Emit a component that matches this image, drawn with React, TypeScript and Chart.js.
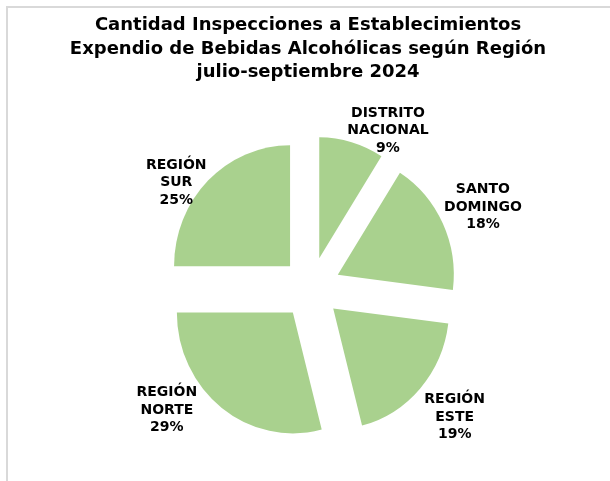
import React, { useEffect, useRef } from "react";
import { Chart, registerables } from "chart.js";

Chart.register(...registerables);

const titleLines = [
  "Cantidad Inspecciones a Establecimientos",
  "Expendio de Bebidas Alcohólicas según Región",
  "julio-septiembre 2024",
];
const categories = [
  ["DISTRITO", "NACIONAL"],
  ["SANTO", "DOMINGO"],
  ["REGIÓN", "ESTE"],
  ["REGIÓN", "NORTE"],
  ["REGIÓN", "SUR"],
];
const values = [9, 18, 19, 29, 25];

// label placement relative to each slice (angle shift in degrees, distance from pie centre in px)
const labelAngleShift = [9.9, 0, 0.5, 11.9, -7];
const labelDistance = [175, 190, 193, 189, 171];

const GREEN = "#a9d18e";
const FONT = "'DejaVu Sans', Verdana, sans-serif";
const EXPLODE = 29.6; // px each slice is pulled out along its bisector
const STRETCH_Y = 1.043; // reference pie is slightly taller than wide

const framePlugin = {
  id: "frame",
  beforeDraw(chart: any) {
    const ctx = chart.ctx;
    ctx.save();
    ctx.fillStyle = "#ffffff";
    ctx.fillRect(0, 0, chart.width, chart.height);
    ctx.fillStyle = "#d9d9d9";
    ctx.fillRect(6, 6, chart.width - 6, 2);
    ctx.fillRect(6, 6, 2, chart.height - 6);
    ctx.restore();
  },
};

// draws the library's own arc elements, each translated outward (exploded pie)
const explodePlugin = {
  id: "explode",
  beforeDatasetDraw(chart: any, args: any) {
    const ctx = chart.ctx;
    const meta = args.meta;
    meta.data.forEach((arc: any) => {
      const p = arc.getProps(["x", "y", "startAngle", "endAngle"], true);
      const half = (p.startAngle + p.endAngle) / 2;
      ctx.save();
      ctx.translate(p.x, p.y);
      ctx.scale(1, STRETCH_Y);
      ctx.translate(-p.x, -p.y);
      ctx.translate(Math.cos(half) * EXPLODE, Math.sin(half) * EXPLODE);
      arc.draw(ctx);
      ctx.restore();
    });
    return false;
  },
};

const titlePlugin = {
  id: "customTitle",
  afterDraw(chart: any) {
    const ctx = chart.ctx;
    ctx.save();
    ctx.fillStyle = "#000000";
    ctx.font = `bold 18px ${FONT}`;
    ctx.textAlign = "center";
    ctx.textBaseline = "alphabetic";
    titleLines.forEach((t, i) => {
      ctx.fillText(t, 308, 30 + i * 23.5);
    });
    ctx.restore();
  },
};

const labelPlugin = {
  id: "sliceLabels",
  afterDatasetsDraw(chart: any) {
    const ctx = chart.ctx;
    const meta = chart.getDatasetMeta(0);
    const total = values.reduce((a, b) => a + b, 0);
    ctx.save();
    ctx.fillStyle = "#000000";
    ctx.font = `bold 14px ${FONT}`;
    ctx.textAlign = "center";
    ctx.textBaseline = "middle";
    meta.data.forEach((arc: any, i: number) => {
      const p = arc.getProps(["x", "y", "startAngle", "endAngle"], true);
      const mid = (p.startAngle + p.endAngle) / 2 + (labelAngleShift[i] * Math.PI) / 180;
      const cx = p.x + Math.cos(mid) * labelDistance[i];
      const cy = p.y + Math.sin(mid) * labelDistance[i];
      const lines = [...categories[i], `${Math.round((values[i] / total) * 100)}%`];
      const lh = 17.5;
      lines.forEach((l, k) => {
        ctx.fillText(l, cx, cy + (k - (lines.length - 1) / 2) * lh);
      });
    });
    ctx.restore();
  },
};

export default function App() {
  const ref = useRef<HTMLCanvasElement | null>(null);
  useEffect(() => {
    if (!ref.current) return;
    const chart = new Chart(ref.current, {
      type: "pie",
      data: {
        labels: categories.map((c) => c.join(" ")),
        datasets: [
          {
            data: values,
            backgroundColor: GREEN,
            borderWidth: 0,
            offset: 0,
            hoverOffset: 0,
          },
        ],
      },
      options: {
        responsive: false,
        animation: false,
        radius: 116,
        layout: { padding: { left: 178, top: 155, right: 166, bottom: 60 } },
        plugins: {
          legend: { display: false },
          title: { display: false },
          tooltip: { enabled: false },
        },
        events: [],
      },
      plugins: [framePlugin, explodePlugin, titlePlugin, labelPlugin],
    });
    return () => chart.destroy();
  }, []);
  return (
    <div style={{ position: "absolute", left: 0, top: 0, width: 610, height: 481 }}>
      <canvas ref={ref} width={610} height={481} style={{ display: "block" }} />
    </div>
  );
}
